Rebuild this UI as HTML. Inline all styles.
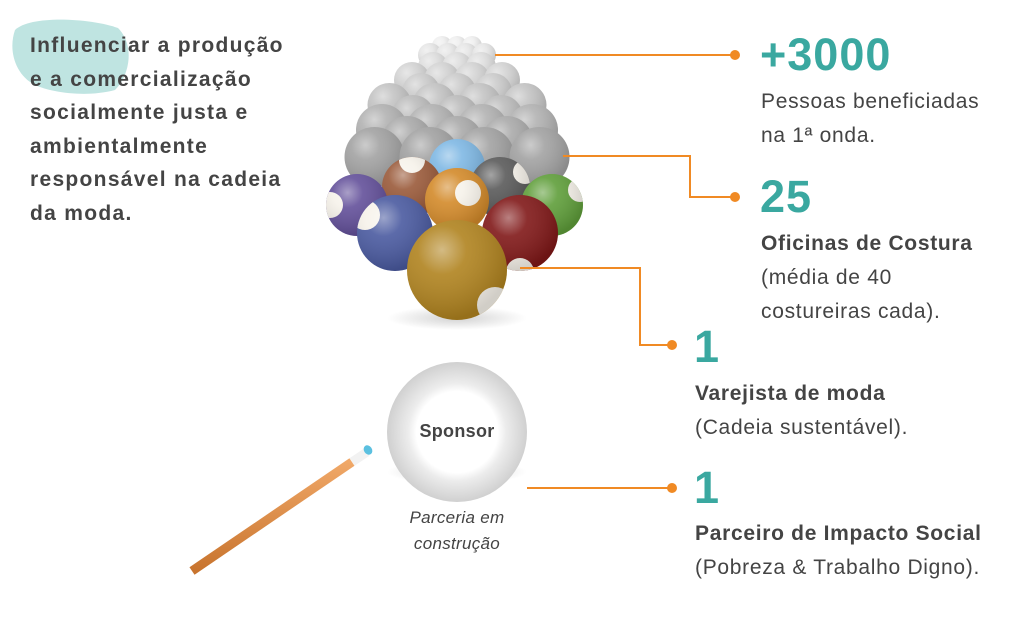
<!DOCTYPE html>
<html><head><meta charset="utf-8"><style>
html,body{margin:0;padding:0;background:#fff;}
body{width:1024px;height:617px;overflow:hidden;position:relative;font-family:"Liberation Sans",sans-serif;}
.t{position:absolute;color:#444;font-size:21px;line-height:34px;white-space:nowrap;letter-spacing:0.7px;}
.b{font-weight:bold;}
.n{position:absolute;color:#3aa8a0;font-weight:bold;font-size:45px;line-height:42px;letter-spacing:1px;}
</style></head><body>
<svg width="1024" height="617" style="position:absolute;left:0;top:0">
<defs>
<radialGradient id="hl" cx="0.35" cy="0.3" r="0.7">
<stop offset="0" stop-color="#fff" stop-opacity="0.45"/>
<stop offset="0.35" stop-color="#fff" stop-opacity="0.1"/>
<stop offset="1" stop-color="#000" stop-opacity="0.15"/>
</radialGradient>
<radialGradient id="sh" cx="0.5" cy="0.5" r="0.5">
<stop offset="0" stop-color="#000" stop-opacity="0.18"/>
<stop offset="1" stop-color="#000" stop-opacity="0"/>
</radialGradient>
<radialGradient id="sp" cx="0.5" cy="0.5" r="0.5">
<stop offset="0.58" stop-color="#fff"/>
<stop offset="0.7" stop-color="#ececec"/>
<stop offset="1" stop-color="#d0d0d0"/>
</radialGradient>
<linearGradient id="cue" x1="0" y1="0" x2="0" y2="1">
<stop offset="0" stop-color="#f0a868"/><stop offset="1" stop-color="#c8742e"/>
</linearGradient>
</defs>
<path d="M15,30 C30,15 90,18 118,28 C135,45 130,75 115,90 C85,98 50,92 35,85 C15,75 8,50 15,30Z" fill="#bfe4e1"/>
<ellipse cx="457" cy="318" rx="70" ry="12" fill="url(#sh)"/>
<ellipse cx="457" cy="472" rx="70" ry="12" fill="url(#sh)"/>
<g id="grey"></g>
<g id="col"></g>
<g stroke="#f08a24" stroke-width="2" fill="none">
<path d="M495,55H735"/>
<path d="M563,156H690V197H735"/>
<path d="M520,268H640V345H672"/>
<path d="M527,488H672"/>
</g>
<g fill="#f08a24">
<circle cx="735" cy="55" r="5"/><circle cx="735" cy="197" r="5"/>
<circle cx="672" cy="345" r="5"/><circle cx="672" cy="488" r="5"/>
</g>
<circle cx="457" cy="432" r="70" fill="url(#sp)"/>
<circle cx="457" cy="432" r="41" fill="#fff"/>
<line x1="192" y1="571" x2="352" y2="462" stroke="url(#cue)" stroke-width="9"/>
<line x1="352" y1="462" x2="367" y2="452" stroke="#f2f2f2" stroke-width="9"/>
<ellipse cx="368" cy="450" rx="4" ry="5" fill="#5bc0e0" transform="rotate(-34 368 450)"/>
</svg>
<script>
(function(){
var ns="http://www.w3.org/2000/svg";
function c(g,x,y,r,f,op){var e=document.createElementNS(ns,"circle");e.setAttribute("cx",x);e.setAttribute("cy",y);e.setAttribute("r",r);e.setAttribute("fill",f);if(op!=null)e.setAttribute("opacity",op);g.appendChild(e);return e;}
var g=document.getElementById("grey");
var rows=[[46,10,3,15,"#efefef"],[55,12,4,18,"#e6e6e6"],[67,15,3,24,"#dedede"],[80,18,4,30,"#d4d4d4"],[92,19,3,36,"#cccccc"],[105,22,4,45,"#c4c4c4"],[117,22,3,44,"#bcbcbc"],[130,26,4,50,"#b2b2b2"],[142,26,3,50,"#aaaaaa"],[157,30,4,55,"#a2a2a2"]];
rows.forEach(function(r){for(var i=0;i<r[2];i++){var x=457+(i-(r[2]-1)/2)*r[3];c(g,x,r[0],r[1],r[4]);c(g,x,r[0],r[1],"url(#hl)");}});
var k=document.getElementById("col");
var balls=[[457,167,28,"#7fb8e4",null],[412,187,30,"#9a5a3a",[412,160,13]],[500,187,30,"#5a5a5a",[525,172,12]],[357,205,31,"#63509a",[330,205,13]],[552,205,31,"#5f9e3a",[580,190,12]],[457,200,32,"#d38a2a",[468,193,13]],[395,233,38,"#4a5aa0",[365,215,15]],[520,233,38,"#801818",[520,272,14]],[457,270,50,"#b0831f",[495,305,18]]];
var id=0;
balls.forEach(function(b){
 c(k,b[0],b[1],b[2],b[3]);
 if(b[4]){id++;var cp=document.createElementNS(ns,"clipPath");cp.setAttribute("id","cp"+id);var cc=document.createElementNS(ns,"circle");cc.setAttribute("cx",b[0]);cc.setAttribute("cy",b[1]);cc.setAttribute("r",b[2]);cp.appendChild(cc);k.appendChild(cp);
 var s=c(k,b[4][0],b[4][1],b[4][2],"#f6f2ea");s.setAttribute("clip-path","url(#cp"+id+")");}
 c(k,b[0],b[1],b[2],"url(#hl)");
});
})();
</script>
<div class="t b" style="left:30px;top:29px;line-height:33.5px;letter-spacing:1.3px;">Influenciar a produção<br>e a comercialização<br>socialmente justa e<br>ambientalmente<br>responsável na cadeia<br>da moda.</div>
<div class="n" style="left:760px;top:34px;">+3000</div>
<div class="t" style="left:761px;top:85px;">Pessoas beneficiadas<br>na 1ª onda.</div>
<div class="n" style="left:760px;top:176px;">25</div>
<div class="t" style="left:761px;top:227px;"><span class="b">Oficinas de Costura</span><br>(média de 40<br>costureiras cada).</div>
<div class="n" style="left:694px;top:326px;">1</div>
<div class="t" style="left:695px;top:377px;"><span class="b">Varejista de moda</span><br>(Cadeia sustentável).</div>
<div class="n" style="left:694px;top:467px;">1</div>
<div class="t" style="left:695px;top:517px;"><span class="b">Parceiro de Impacto Social</span><br>(Pobreza &amp; Trabalho Digno).</div>
<div class="t b" style="left:400px;top:414px;font-size:18px;line-height:34px;width:114px;text-align:center;letter-spacing:0.3px;">Sponsor</div>
<div class="t" style="left:380px;top:505px;width:154px;text-align:center;font-style:italic;font-size:17px;line-height:26px;letter-spacing:0.3px;">Parceria em<br>construção</div>
</body></html>
